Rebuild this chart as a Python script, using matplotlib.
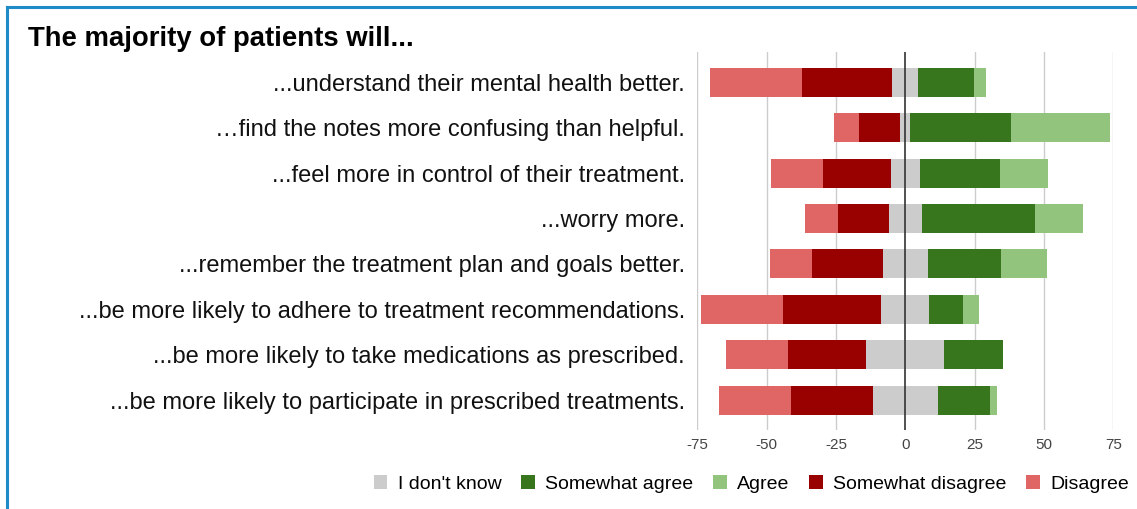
import matplotlib
matplotlib.use("Agg")
import matplotlib.pyplot as plt
from matplotlib.patches import Patch
from matplotlib.lines import Line2D
import numpy as np

plt.rcParams['font.family'] = ['Liberation Sans', 'DejaVu Sans']

title = "The majority of patients will..."
categories = [
    "...understand their mental health better.",
    "\u2026find the notes more confusing than helpful.",
    "...feel more in control of their treatment.",
    "...worry more.",
    "...remember the treatment plan and goals better.",
    "...be more likely to adhere to treatment recommendations.",
    "...be more likely to take medications as prescribed.",
    "...be more likely to participate in prescribed treatments.",
]
disagree = [33.3, 9.0, 18.6, 11.7, 15.0, 29.4, 22.4, 25.9]
somewhat_disagree = [32.5, 15.1, 24.6, 18.5, 25.6, 35.4, 28.1, 29.4]
dont_know = [9.3, 3.5, 10.4, 11.8, 16.4, 17.4, 28.2, 23.6]
somewhat_agree = [20.1, 36.3, 29.0, 40.7, 26.4, 12.0, 21.1, 18.9]
agree = [4.4, 35.9, 17.4, 17.4, 16.4, 5.9, 0.0, 2.2]
xticks = [-75, -50, -25, 0, 25, 50, 75]

colors = {
    "I don't know": "#cccccc",
    "Somewhat agree": "#38761d",
    "Agree": "#93c47d",
    "Somewhat disagree": "#990000",
    "Disagree": "#e06666",
}

W, H = 1137, 509
fig = plt.figure(figsize=(W / 100, H / 100), dpi=100)
ax = fig.add_axes([697.3 / W, 1 - 430 / H, (1113.3 - 697.3) / W, (430 - 52) / H])

y = np.arange(len(categories))
d = np.array(disagree)
sd = np.array(somewhat_disagree)
dk = np.array(dont_know)
sa = np.array(somewhat_agree)
a = np.array(agree)
h = 0.64

ax.barh(y, dk, left=-dk / 2, height=h, color=colors["I don't know"], zorder=3)
ax.barh(y, sd, left=-dk / 2 - sd, height=h, color=colors["Somewhat disagree"], zorder=3)
ax.barh(y, d, left=-dk / 2 - sd - d, height=h, color=colors["Disagree"], zorder=3)
ax.barh(y, sa, left=dk / 2, height=h, color=colors["Somewhat agree"], zorder=3)
ax.barh(y, a, left=dk / 2 + sa, height=h, color=colors["Agree"], zorder=3)

ax.set_xlim(-75, 75)
ax.set_ylim(len(categories) - 1 + 0.66, -0.67)
ax.set_xticks(xticks)
ax.set_xticklabels([str(t) for t in xticks], fontsize=11, color="#444444")
ax.set_yticks(y)
ax.set_yticklabels(categories, fontsize=17.05, color="#111111")
ax.tick_params(axis="both", length=0)
ax.tick_params(axis="y", pad=9)
ax.tick_params(axis="x", pad=6)
for s in ax.spines.values():
    s.set_visible(False)
for t in xticks:
    if t == 0:
        ax.axvline(t, color="#333333", lw=1.2, zorder=4)
    else:
        ax.axvline(t, color="#cccccc", lw=1.0, zorder=1)

fig.text(28 / W, 1 - 39 / H, title, fontsize=19.8, fontweight="bold", ha="left", va="center", color="#000000")

handles = [Patch(facecolor=colors[k], edgecolor="none", label=k) for k in colors]
fig.legend(handles=handles, loc="center", bbox_to_anchor=(751.5 / W, 1 - 484 / H), ncol=5,
           frameon=False, fontsize=14, handlelength=0.7, handleheight=0.7,
           handletextpad=0.55, columnspacing=1.0, borderaxespad=0)

bc = "#1f8ac8"
fig.add_artist(Line2D([7 / W, 7 / W], [0, 1 - 7 / H], transform=fig.transFigure, color=bc, lw=2.2))
fig.add_artist(Line2D([7 / W, 1], [1 - 7 / H, 1 - 7 / H], transform=fig.transFigure, color=bc, lw=2.2))

fig.savefig("out.png", dpi=100, facecolor="white")
